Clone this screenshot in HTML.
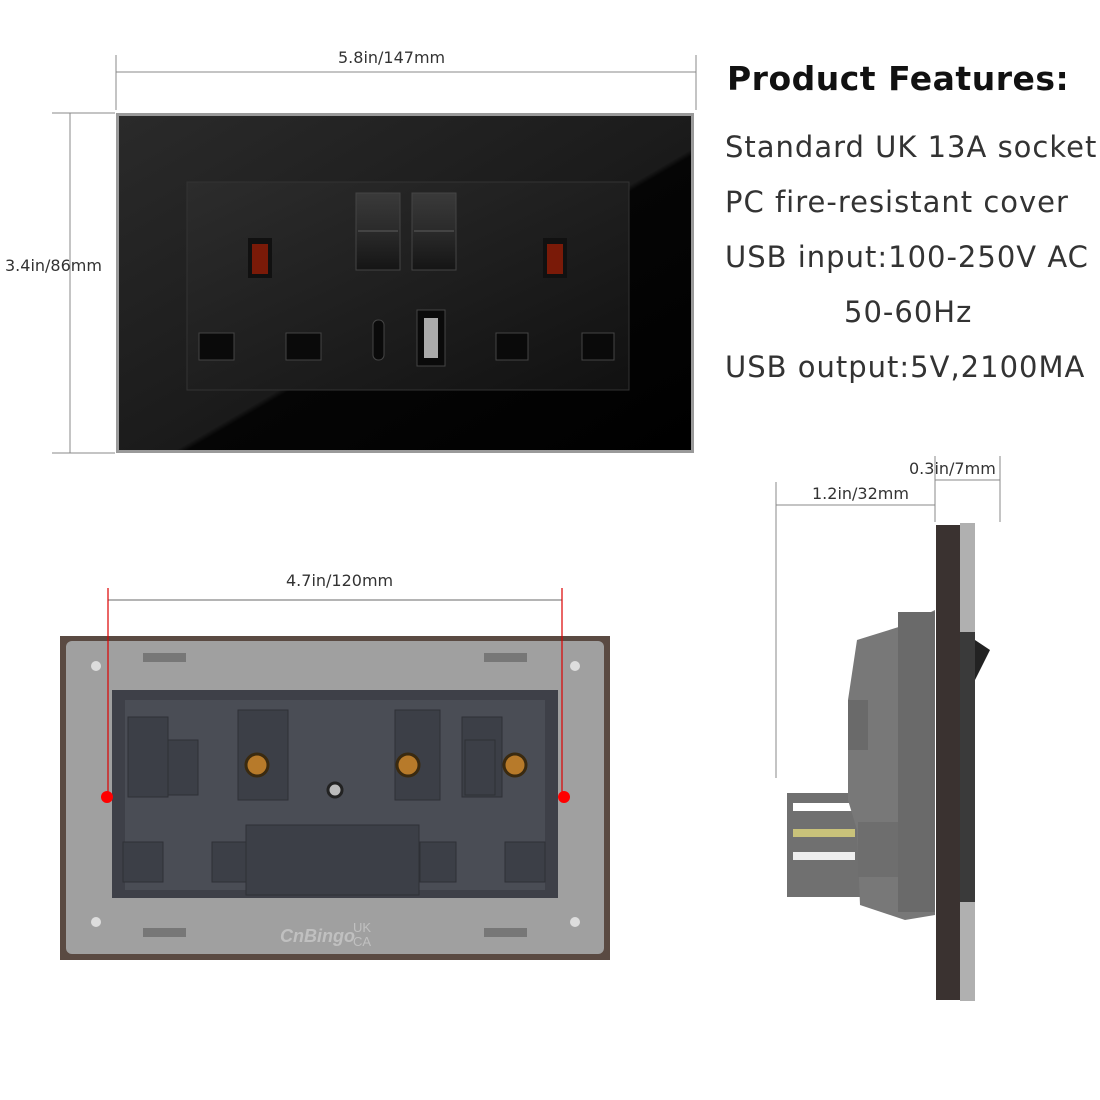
<!DOCTYPE html>
<html><head><style>
html,body{margin:0;padding:0;background:#fff;}
body{width:1100px;height:1100px;position:relative;overflow:hidden;font-family:"Liberation Sans","DejaVu Sans",sans-serif;}
.t{position:absolute;color:#333;font-size:29px;letter-spacing:1px;white-space:nowrap;font-family:"DejaVu Sans","Liberation Sans",sans-serif;}
.d{position:absolute;color:#333;font-size:16px;white-space:nowrap;font-family:"DejaVu Sans","Liberation Sans",sans-serif;}
</style></head><body>
<svg width="1100" height="1100" style="position:absolute;left:0;top:0">
<defs>
<linearGradient id="g1" x1="0" y1="0" x2="1" y2="1">
<stop offset="0" stop-color="#2a2a2a"/><stop offset="0.55" stop-color="#1a1a1a"/><stop offset="0.56" stop-color="#050505"/><stop offset="1" stop-color="#000"/>
</linearGradient>
<linearGradient id="g2" x1="0" y1="0" x2="1" y2="1">
<stop offset="0" stop-color="#2c2c2c"/><stop offset="1" stop-color="#111"/>
</linearGradient>
<linearGradient id="sw" x1="0" y1="0" x2="0" y2="1">
<stop offset="0" stop-color="#3a3a3a"/><stop offset="0.5" stop-color="#2a2a2a"/><stop offset="1" stop-color="#151515"/>
</linearGradient>
</defs>
<g stroke="#888" stroke-width="1" fill="none">
<line x1="116" y1="72" x2="696" y2="72"/>
<line x1="116" y1="55" x2="116" y2="110"/>
<line x1="696" y1="55" x2="696" y2="110"/>
<line x1="70" y1="113" x2="70" y2="453"/>
<line x1="52" y1="113" x2="115" y2="113"/>
<line x1="52" y1="453" x2="115" y2="453"/>
<line x1="776" y1="482" x2="776" y2="778"/>
<line x1="776" y1="505" x2="935" y2="505"/>
<line x1="935" y1="456" x2="935" y2="522"/>
<line x1="1000" y1="456" x2="1000" y2="522"/>
<line x1="935" y1="480" x2="1000" y2="480"/>
</g>
<rect x="116" y="113" width="578" height="340" fill="#9a9a9a"/>
<rect x="119" y="116" width="572" height="334" fill="url(#g1)"/>
<rect x="187" y="182" width="442" height="208" fill="url(#g2)" stroke="#333"/>
<rect x="356" y="193" width="44" height="77" fill="url(#sw)" stroke="#444"/>
<rect x="412" y="193" width="44" height="77" fill="url(#sw)" stroke="#444"/>
<rect x="358" y="230" width="40" height="2" fill="#444"/><rect x="414" y="230" width="40" height="2" fill="#444"/>
<rect x="248" y="238" width="24" height="40" fill="#111"/><rect x="252" y="244" width="16" height="30" fill="#7a1a08"/>
<rect x="543" y="238" width="24" height="40" fill="#111"/><rect x="547" y="244" width="16" height="30" fill="#7a1a08"/>
<g fill="#0a0a0a" stroke="#444">
<rect x="199" y="333" width="35" height="27"/><rect x="286" y="333" width="35" height="27"/>
<rect x="496" y="333" width="32" height="27"/><rect x="582" y="333" width="32" height="27"/>
<rect x="373" y="320" width="11" height="40" rx="5"/>
<rect x="417" y="310" width="28" height="56"/>
</g>
<rect x="424" y="318" width="14" height="40" fill="#aaa"/>
<rect x="60" y="636" width="550" height="324" fill="#5a4a42"/>
<rect x="66" y="641" width="538" height="313" rx="6" fill="#a0a0a0"/>
<rect x="112" y="690" width="446" height="208" fill="#3e4048"/>
<rect x="125" y="700" width="420" height="190" fill="#4a4d55"/>
<g fill="#3c3f47" stroke="#2e3036">
<rect x="128" y="717" width="40" height="80"/><rect x="168" y="740" width="30" height="55"/>
<rect x="238" y="710" width="50" height="90"/><rect x="395" y="710" width="45" height="90"/>
<rect x="462" y="717" width="40" height="80"/><rect x="465" y="740" width="30" height="55"/>
<rect x="123" y="842" width="40" height="40"/><rect x="212" y="842" width="36" height="40"/>
<rect x="420" y="842" width="36" height="40"/><rect x="505" y="842" width="40" height="40"/>
<rect x="246" y="825" width="173" height="70"/>
</g>
<g fill="#b77a2a" stroke="#3a2a10" stroke-width="3">
<circle cx="257" cy="765" r="11"/><circle cx="408" cy="765" r="11"/><circle cx="515" cy="765" r="11"/>
</g>
<circle cx="335" cy="790" r="7" fill="#bbb" stroke="#222" stroke-width="3"/>
<g fill="#ddd"><circle cx="96" cy="666" r="5"/><circle cx="575" cy="666" r="5"/><circle cx="96" cy="922" r="5"/><circle cx="575" cy="922" r="5"/></g>
<g fill="#777"><rect x="143" y="653" width="43" height="9"/><rect x="484" y="653" width="43" height="9"/><rect x="143" y="928" width="43" height="9"/><rect x="484" y="928" width="43" height="9"/></g>
<text x="280" y="942" font-size="18" font-style="italic" font-weight="bold" fill="#c0c0c0" font-family="Liberation Sans">CnBingo</text>
<text x="353" y="932" font-size="13" fill="#c0c0c0" font-family="Liberation Sans">UK</text>
<text x="353" y="946" font-size="13" fill="#c0c0c0" font-family="Liberation Sans">CA</text>
<g stroke="#d00" stroke-width="1.2">
<line x1="108" y1="600" x2="562" y2="600" stroke="#888"/>
<line x1="108" y1="588" x2="108" y2="797"/>
<line x1="562" y1="588" x2="562" y2="797"/>
</g>
<circle cx="107" cy="797" r="6" fill="#f00"/><circle cx="564" cy="797" r="6" fill="#f00"/>
<rect x="787" y="793" width="83" height="104" fill="#707070"/>
<rect x="793" y="803" width="62" height="8" fill="#fff"/><rect x="793" y="829" width="62" height="8" fill="#c9c27a"/><rect x="793" y="852" width="62" height="8" fill="#eee"/>
<polygon points="857,640 905,625 935,610 935,915 905,920 860,905 857,830 848,800 848,700" fill="#787878"/>
<rect x="848" y="700" width="20" height="50" fill="#6a6a6a"/>
<rect x="858" y="822" width="40" height="55" fill="#6e6e6e"/>
<rect x="898" y="612" width="37" height="300" fill="#6a6a6a"/>
<rect x="936" y="525" width="24" height="475" fill="#3a3230"/>
<rect x="960" y="523" width="15" height="478" fill="#b0b0b0"/>
<rect x="960" y="632" width="15" height="270" fill="#3a3a3a"/>
<polygon points="975,640 990,650 975,680" fill="#222"/>
</svg>
<div class="d" style="left:338px;top:48px;">5.8in/147mm</div>
<div class="d" style="left:5px;top:256px;">3.4in/86mm</div>
<div class="d" style="left:286px;top:571px;">4.7in/120mm</div>
<div class="d" style="left:812px;top:484px;">1.2in/32mm</div>
<div class="d" style="left:909px;top:459px;">0.3in/7mm</div>
<div class="t" style="left:727px;top:59px;font-weight:bold;color:#111;font-size:33px;letter-spacing:0.5px">Product Features:</div>
<div class="t" style="left:725px;top:130px;">Standard UK 13A socket</div>
<div class="t" style="left:725px;top:185px;">PC fire-resistant cover</div>
<div class="t" style="left:725px;top:240px;">USB input:100-250V AC</div>
<div class="t" style="left:844px;top:295px;">50-60Hz</div>
<div class="t" style="left:725px;top:350px;">USB output:5V,2100MA</div>
</body></html>
